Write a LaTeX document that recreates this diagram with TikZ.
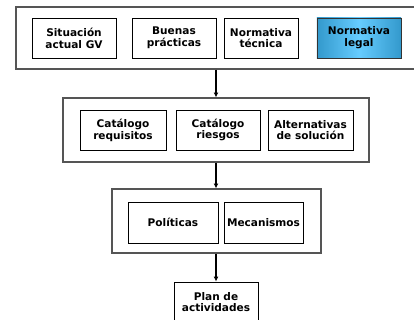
\documentclass[tikz,border=0pt]{standalone}
\usepackage{fontspec}
\setmainfont{DejaVu Sans}
\usepackage{tikz}
\usetikzlibrary{
  arrows.meta
}

\definecolor{azulclaro}{HTML}{66CCFF}
\definecolor{azuloscuro}{HTML}{3399CC}
\definecolor{bordegris}{HTML}{555555}

\tikzset{
  caja/.style={draw=black,line width=0.6pt,fill=white,align=center,
    font=\bfseries\fontsize{7.5}{8.4}\selectfont,
    minimum width=2.1cm,minimum height=1cm,inner sep=1pt},
  grupo/.style={draw=bordegris,line width=0.8pt,fill=white,
    minimum height=1.6cm,inner sep=0pt},
  flecha/.style={-{Latex[length=3.5pt,width=3.5pt]},line width=1pt}
}

\begin{document}
\begin{tikzpicture}[x=0.025cm,y=-0.025cm]

  \useasboundingbox (0,0) rectangle (414,320);

  % bloque de entradas
  \node[grupo,minimum width=10cm,minimum height=1.55cm] (entradas) at (216,38) {};
  \node[caja] (situacion) at (74,38)
    {Situación\\actual GV};
  \node[caja] (buenas) at (174,38)
    {Buenas\\prácticas};
  \node[caja,minimum width=1.85cm] (tecnica) at (261,38)
    {Normativa\\técnica};
  \node[caja,draw=black!80,left color=azuloscuro,right color=azuloscuro,
    middle color=azulclaro] (legal) at (359,38)
    {Normativa\\legal};

  % bloque de análisis
  \node[grupo,minimum width=7.65cm] (analisis) at (216,130) {};
  \node[caja,minimum width=2.15cm] (requisitos) at (123,130)
    {Catálogo\\requisitos};
  \node[caja] (riesgos) at (218,130)
    {Catálogo\\riesgos};
  \node[caja,minimum width=2.125cm] (alternativas) at (310.5,130)
    {Alternativas\\de solución};

  % bloque de políticas
  \node[grupo,minimum width=5.225cm] (medidas) at (216.5,221) {};
  \node[caja,minimum width=2.25cm,minimum height=1.025cm] (politicas) at (173,222.5)
    {Políticas};
  \node[caja,minimum width=1.975cm,minimum height=1.025cm] (mecanismos) at (263.5,222.5)
    {Mecanismos};

  % resultado
  \node[caja] (plan) at (216,302)
    {Plan de\\actividades};

  % flujo
  \draw[flecha] (entradas.south -| analisis.north) -- (analisis.north);
  \draw[flecha] (analisis.south) -- (analisis.south |- medidas.north);
  \draw[flecha] (analisis.south |- medidas.south) -- (analisis.south |- plan.north);

\end{tikzpicture}
\end{document}
